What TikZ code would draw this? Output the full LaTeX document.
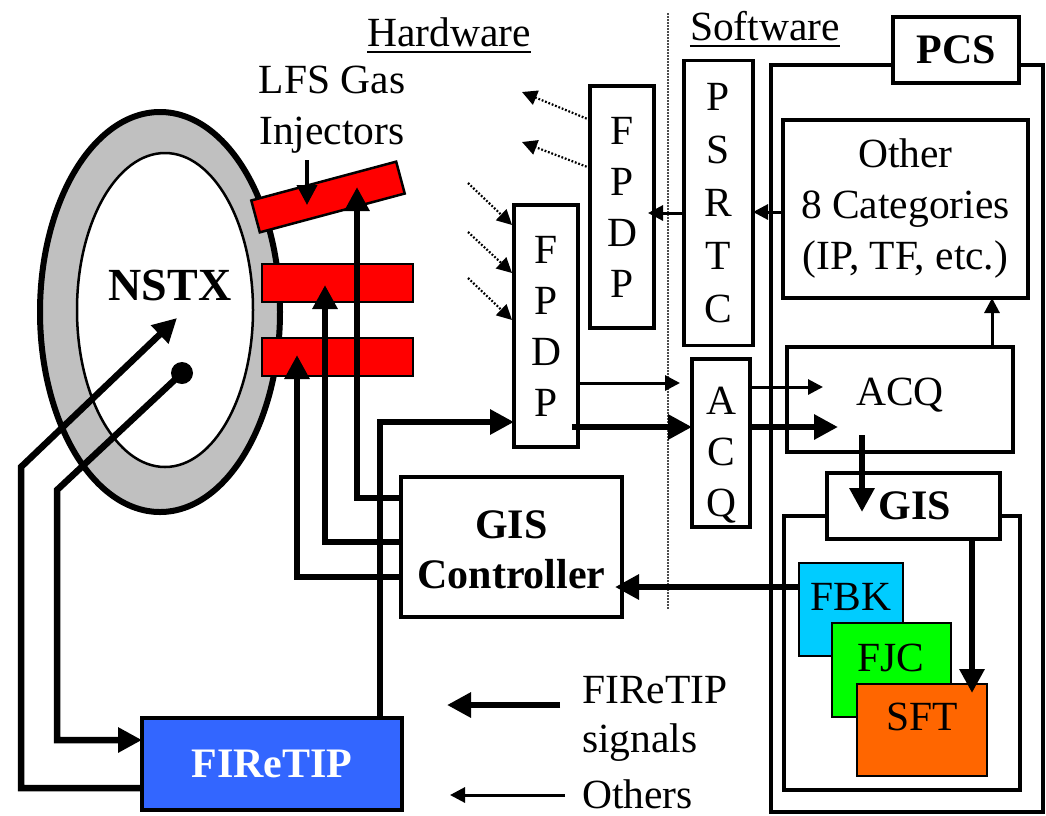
\documentclass[tikz,border=0pt]{standalone}
\usepackage{fontspec}
\setmainfont{Liberation Serif}
\usetikzlibrary{arrows.meta,calc}
\begin{document}
\begin{tikzpicture}[x=1pt,y=-1pt,
  box/.style={draw, line width=3.2pt, outer sep=0pt, inner sep=0pt, fill=white},
  inj/.style={draw, line width=2.5pt, outer sep=0pt, fill=red},
  reg/.style={font=\fontsize{41.5}{51}\selectfont, inner sep=0pt, align=center},
  bld/.style={font=\fontsize{42}{50}\selectfont\bfseries, inner sep=0pt, align=center},
  thk/.style={line width=6.5pt, -{Triangle[length=24pt,width=24pt]}},
  thn/.style={line width=3pt, -{Triangle[length=15pt,width=15pt]}},
  dotarr/.style={line width=2.2pt, dash pattern=on 1.8pt off 1.8pt, -{Triangle[length=15pt,width=15pt]}},
]
\useasboundingbox (0,0) rectangle (1046,815);

% torus
\draw[line width=6pt, fill={rgb,255:red,192;green,192;blue,192}] (160,312) ellipse [x radius=120pt, y radius=200pt];
\draw[line width=2.5pt, fill=white] (165,310) ellipse [x radius=88pt, y radius=157pt];
\node[font=\fontsize{46}{50}\selectfont\bfseries, inner sep=0pt] (nstx) at (170,285) {NSTX};

% injectors
\node[inj, minimum width=150pt, minimum height=33pt, rotate=15] (inj1) at (328,197) {};
\node[inj, minimum width=151pt, minimum height=38pt] (inj2) at (337.5,283) {};
\node[inj, minimum width=151pt, minimum height=38pt] (inj3) at (337.5,357) {};
\node[reg] (lfs) at (332,110) {LFS Gas\\Injectors};
\coordinate (lfstop) at (307,160);
\coordinate (lfstip) at (307,205);
\draw[line width=4pt, -{Triangle[length=20pt,width=20pt]}] (lfstop) -- (lfstip);

% labels
\node[reg, anchor=base] (hw) at (449,46) {Hardware};
\draw[line width=2.5pt] ([yshift=-6pt]hw.base west) -- ([yshift=-6pt]hw.base east);
\node[reg, anchor=base] (sw) at (765,40) {Software};
\draw[line width=2.5pt] ([yshift=-6pt]sw.base west) -- ([yshift=-6pt]sw.base east);
\coordinate (dtop) at (668,13);
\coordinate (dbot) at (668,610);
\draw[line width=1.5pt, dash pattern=on 1.5pt off 1.5pt, black!70] (dtop) -- (dbot);

% hardware boxes
\node[box, reg, minimum width=64pt, minimum height=242pt] (fpdp1) at (622,207) {F\\P\\D\\P};
\node[box, reg, minimum width=64pt, minimum height=242pt] (fpdp2) at (546,326) {F\\P\\D\\P};
\node[box, minimum width=221pt, minimum height=140pt] (gc) at (511.5,547) {};
\node[bld] (gctext) at (511.5,550) {GIS\\Controller};
\node[box, draw, fill={rgb,255:red,51;green,102;blue,255}, minimum width=260pt, minimum height=92pt] (fire) at (272,764) {};
\node[bld, text=white] (firetext) at (272,764) {FIReTIP};

% software / PCS
\node[draw, line width=3.2pt, outer sep=0pt, minimum width=272pt, minimum height=747pt] (pcs) at (907,438.5) {};
\node[box, bld, minimum width=126pt, minimum height=66pt] (pcslabel) at (956,50) {PCS};
\node[box, reg, minimum width=69pt, minimum height=285pt] (psrtc) at (718.5,203) {P\\[2pt]S\\[2pt]R\\[2pt]T\\[2pt]C};
\node[box, reg, minimum width=58pt, minimum height=168pt] (acqv) at (721,443) {};
\node[reg] (acqvtext) at (721,455) {A\\C\\Q};
\node[box, reg, minimum width=245pt, minimum height=178pt] (other) at (905.5,209) {Other\\8 Categories\\(IP, TF, etc.)};
\node[box, minimum width=226pt, minimum height=105pt] (acqr) at (900,399.5) {};
\node[reg] (acqrtext) at (900,395) {ACQ};
\node[draw, line width=3.2pt, outer sep=0pt, minimum width=236pt, minimum height=274pt] (inner) at (902,653) {};
\node[box, minimum width=173pt, minimum height=66pt] (gis) at (913.5,506) {};
\node[bld] (gistext) at (915,506) {GIS};
\node[draw, line width=2.5pt, outer sep=0pt, fill={rgb,255:red,0;green,204;blue,255}, minimum width=104pt, minimum height=93pt] (fbk) at (851,609.5) {};
\node[reg] (fbktext) at (851,597) {FBK};
\node[draw, line width=2.5pt, outer sep=0pt, fill={rgb,255:red,0;green,255;blue,0}, minimum width=119pt, minimum height=94pt] (fjc) at (891.5,670) {};
\node[reg] (fjctext) at (891,658) {FJC};
\node[draw, line width=2.5pt, outer sep=0pt, fill={rgb,255:red,255;green,102;blue,0}, minimum width=130pt, minimum height=92pt] (sft) at (922,730) {};
\node[reg] (sfttext) at (922,717) {SFT};

% named points
\coordinate (t1) at (357,187);
\coordinate (t2) at (325,285);
\coordinate (t3) at (297,355);
\coordinate (tn) at (177,318);
\coordinate (c1) at (21,467);
\coordinate (c2) at (57,490);

% GIS controller -> injectors
\draw[thk] ($(gc.north west)+(0,21)$) -| (t1);
\draw[thk] ($(gc.north west)+(0,65)$) -| (t2);
\draw[thk] ($(gc.north west)+(0,100)$) -| (t3);
% FIReTIP -> FPDP
\draw[thk] ($(fire.north west)+(238,0)$) |- ($(fpdp2.west)+(0,96)$);
% NSTX arrows
\draw[thk] ($(fire.south west)+(0,-22)$) -| (c1) -- (tn);
\node[circle, fill=black, minimum size=22pt, inner sep=0pt] (dot) at (182,373) {};
\draw[thk] (dot.center) -- (c2) |- ($(fire.west)+(0,-24)$);

% dotted arrows
\coordinate (d1) at (522,92);
\coordinate (d2) at (522,142);
\coordinate (e1) at (468,183);
\coordinate (e2) at (468,232);
\coordinate (e3) at (468,278);
\draw[dotarr] ($(fpdp1.west)+(0,-87)$) -- (d1);
\draw[dotarr] ($(fpdp1.west)+(0,-39)$) -- (d2);
\draw[dotarr] (e1) -- ($(fpdp2.west)+(-2,-101)$);
\draw[dotarr] (e2) -- ($(fpdp2.west)+(-2,-53)$);
\draw[dotarr] (e3) -- ($(fpdp2.west)+(-2,-6)$);

% software arrows
\draw[thn] ($(psrtc.west)+(0,10)$) -- ($(fpdp1.east)+(-6,6)$);
\draw[thn] ($(other.west)+(0,3)$) -- ($(psrtc.east)+(0,9)$);
\draw[thn] ($(fpdp2.east)+(0,57)$) -- ($(acqv.west)+(-12,-60)$);
\draw[thk] ($(fpdp2.east)+(-6,101)$) -- ($(acqv.west)+(0,-16)$);
\draw[thn] ($(acqv.east)+(0,-56)$) -- ($(acqr.west)+(36,-12.5)$);
\draw[thk] ($(acqv.east)+(0,-16)$) -- ($(acqr.west)+(51,27.5)$);
\draw[thn] ($(acqr.north east)+(-21,0)$) -- ($(other.south east)+(-36,0)$);
\draw[thk] ($(acqr.south west)+(75,-17)$) -- ($(gis.north west)+(35,39)$);
\draw[thk] ($(gis.south east)+(-28,0)$) -- ($(sft.north east)+(-15,9)$);
\draw[thk] ($(fbk.north west)+(0,24)$) -- ($(gc.east)+(-7,40)$);

% legend
\node[reg, anchor=base west] (lg1) at (582,703) {FIReTIP};
\node[reg, anchor=base west] (lg2) at (582,752) {signals};
\node[reg, anchor=base west] (lg3) at (582,808) {Others};
\coordinate (l1a) at (447,705);
\coordinate (l2a) at (450,795);
\draw[thk] ($(lg1.base west)+(-22,2)$) -- (l1a);
\draw[thn] ($(lg3.base west)+(-17,-13)$) -- (l2a);
\end{tikzpicture}
\end{document}
